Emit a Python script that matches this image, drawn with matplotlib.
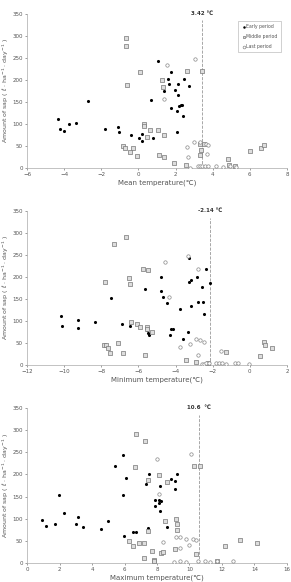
import numpy as np
import matplotlib.pyplot as plt

plt.rcParams['font.family'] = ['DejaVu Sans']

# ---- mean temperature panel
mean_early_x = [-4.31, -4.24, -4.03, -3.76, -3.36, -2.71, -1.78, -1.10, -1.06, -0.42, 0.01, 0.18, 0.19, 0.77, 0.70,
                1.07, 1.36, 1.61, 1.63, 1.74, 1.77, 1.99, 2.11, 2.15, 2.08, 2.17, 2.28, 2.35, 2.44, 2.42, 2.10, 2.74]
mean_early_y = [112, 89, 84, 99, 102, 153, 88, 94, 81, 76, 68, 61, 78, 69, 154,
                243, 174, 202, 191, 219, 137, 178, 190, 166, 129, 140, 143, 142, 201, 118, 81, 187]
mean_mid_x = [-0.65, -0.67, -0.60, 0.10, 0.28, 0.28, 0.62, 0.48, 1.04, 1.25, 1.34, 1.36, 1.09, 1.38, -0.81, -0.71,
              -0.31, -0.43, -0.08, 2.62, 3.44, 2.58, 3.30, 3.39, 3.34, 3.52, 4.84, 4.87, 5.18, 5.99, 6.62, 6.78, 1.92]
mean_mid_y = [294, 276, 188, 217, 99, 95, 87, 71, 86, 199, 183, 75, 30, 24, 50, 46,
              46, 37, 28, 220, 220, 7, 30, 40, 55, 54, 20, 6, 4, 38, 46, 52, 11]
mean_last_x = [1.54, 1.36, 3.05, 2.60, 2.65, 2.99, 3.30, 3.64, 3.75, 3.70, 2.80, 3.19, 3.33, 3.44, 3.59, 3.73,
               4.20, 4.54, 4.92, 5.26]
mean_last_y = [234, 156, 247, 48, 25, 59, 59, 54, 52, 31, 1, 5, 5, 5, 5, 5,
               4, 3, 5, 3]

# ---- minimum temperature panel
min_early_x = [-10.15, -10.10, -9.27, -9.24, -8.32, -7.46, -6.90, -6.45, -5.66, -5.53, -5.48, -5.43, -4.76, -4.80,
               -4.67, -4.44, -4.30, -4.26, -4.14, -3.74, -3.62, -3.33, -3.28, -3.26, -3.17, -3.18, -2.83, -2.77,
               -2.56, -2.52, -2.47, -2.38, -2.14]
min_early_y = [112, 88, 102, 84, 97, 152, 93, 88, 172, 79, 72, 68, 201, 167,
               154, 140, 68, 81, 81, 128, 60, 74, 243, 189, 192, 135, 200, 142,
               177, 143, 116, 218, 186]
min_mid_x = [-6.69, -7.31, -7.82, -6.49, -6.43, -5.75, -5.48, -6.40, -6.09, -5.90, -5.52, -5.52, -5.27, -7.87,
             -7.73, -7.64, -7.51, -7.10, -6.81, -5.64, -3.45, -2.90, -2.27, -1.30, 0.53, 0.78, 0.82, 1.20]
min_mid_y = [291, 275, 189, 198, 183, 219, 216, 97, 94, 86, 86, 81, 75, 45,
             45, 38, 27, 49, 28, 23, 11, 6, 5, 30, 21, 52, 46, 38]
min_last_x = [-4.59, -4.37, -3.33, -2.79, -3.76, -3.22, -2.90, -2.70, -2.48, -2.77, -2.56, -2.45, -2.36, -2.22,
              -1.84, -1.68, -1.52, -1.57, -1.26, -0.81, -0.65, -0.06]
min_last_y = [235, 155, 248, 218, 40, 48, 58, 56, 53, 23, 2, 3, 4, 4,
              4, 4, 4, 32, 3, 4, 4, 3]

# ---- maximum temperature panel
max_early_x = [0.95, 1.16, 1.98, 1.71, 2.27, 3.02, 3.14, 3.43, 4.55, 4.98, 5.43, 5.91, 5.93, 6.12, 5.95, 6.53,
               6.71, 7.33, 7.50, 7.44, 7.85, 7.89, 8.12, 8.14, 8.24, 8.18, 8.20, 8.64, 8.86, 9.09, 9.11, 9.22]
max_early_y = [98, 83, 153, 89, 113, 88, 103, 82, 76, 94, 219, 243, 154, 191, 61, 70,
               69, 178, 201, 79, 128, 142, 136, 142, 140, 118, 173, 82, 189, 186, 168, 200]
max_mid_x = [6.69, 7.27, 6.63, 7.46, 8.12, 8.60, 6.30, 6.53, 6.88, 7.17, 7.46, 7.67, 7.17, 7.79, 7.83, 8.22,
             8.39, 8.51, 9.15, 9.24, 9.26, 9.11, 10.39, 10.29, 10.62, 12.20, 13.10, 14.15, 11.70]
max_mid_y = [292, 276, 216, 188, 198, 184, 50, 38, 46, 46, 72, 28, 12, 7, 5, 23,
             24, 94, 99, 87, 75, 32, 21, 220, 219, 39, 53, 45, 5]
max_last_x = [8.02, 10.10, 8.14, 8.40, 9.17, 9.42, 9.79, 10.19, 10.39, 9.98, 9.40, 9.07, 9.44, 9.81, 10.52, 10.93,
              11.24, 11.71, 12.66]
max_last_y = [235, 247, 155, 48, 59, 58, 55, 54, 51, 41, 33, 2, 5, 2, 5, 4,
              3, 4, 4]

panels = [
    (mean_early_x, mean_early_y, mean_mid_x, mean_mid_y, mean_last_x, mean_last_y,
     (-6, 8), np.arange(-6, 9, 2), 3.42, '3.42 ℃', 'Mean temperature(℃)'),
    (min_early_x, min_early_y, min_mid_x, min_mid_y, min_last_x, min_last_y,
     (-12, 2), np.arange(-12, 3, 2), -2.14, '-2.14 ℃', 'Minimum temperature(℃)'),
    (max_early_x, max_early_y, max_mid_x, max_mid_y, max_last_x, max_last_y,
     (0, 16), np.arange(0, 17, 2), 10.6, '10.6  ℃', 'Maximum temperature(℃)'),
]
boxes = [[0.093, 0.7113, 0.893, 0.265],
         [0.093, 0.373, 0.893, 0.2645],
         [0.093, 0.0326, 0.893, 0.2664]]

txt = '#555555'
fig = plt.figure(figsize=(2.91, 5.82), dpi=100)

for i, (ex, ey, mx, my, lx, ly, xl, xt, vx, vlab, xlab) in enumerate(panels):
    ax = fig.add_axes(boxes[i])
    ax.scatter(ex, ey, s=5, c='black', marker='o', linewidths=0, label='Early period', zorder=3)
    ax.scatter(mx, my, s=6, facecolors='#dddddd', edgecolors='#777777', marker='s', linewidths=0.5,
               label='Middle period', zorder=3)
    ax.scatter(lx, ly, s=6, facecolors='white', edgecolors='#888888', marker='o', linewidths=0.5,
               label='Last period', zorder=3)
    ax.plot([vx, vx], [0, 335], ls='--', lw=0.6, color='#999999', zorder=2)
    ax.text(vx, 350, vlab, ha='center', va='center', fontsize=4, fontweight='bold', color='#333333')
    ax.set_xlim(*xl)
    ax.set_xticks(xt)
    ax.set_ylim(0, 350)
    ax.set_yticks(np.arange(0, 351, 50))
    ax.tick_params(labelsize=4, colors=txt, length=1.5, width=0.4, pad=1.5)
    for s in ['top', 'right']:
        ax.spines[s].set_visible(False)
    for s in ['left', 'bottom']:
        ax.spines[s].set_color('#aaaaaa')
        ax.spines[s].set_linewidth(0.5)
    ax.set_xlabel(xlab, fontsize=5, color=txt, labelpad=1.5)
    ax.set_ylabel('Amount of sap ( ℓ · ha$^{-1}$ · day$^{-1}$ )', fontsize=4.5, color=txt, labelpad=1)
    ax.patch.set_alpha(0)
    if i == 0:
        leg = ax.legend(loc='upper right', bbox_to_anchor=(0.985, 0.97), fontsize=3.3, frameon=True,
                        fancybox=False, edgecolor='#999999', handletextpad=0.2, borderpad=0.7,
                        labelspacing=1.1, handlelength=0.8, markerscale=0.8)
        leg.get_frame().set_linewidth(0.4)
        for t in leg.get_texts():
            t.set_color(txt)

fig.savefig('out.png', dpi=100)
